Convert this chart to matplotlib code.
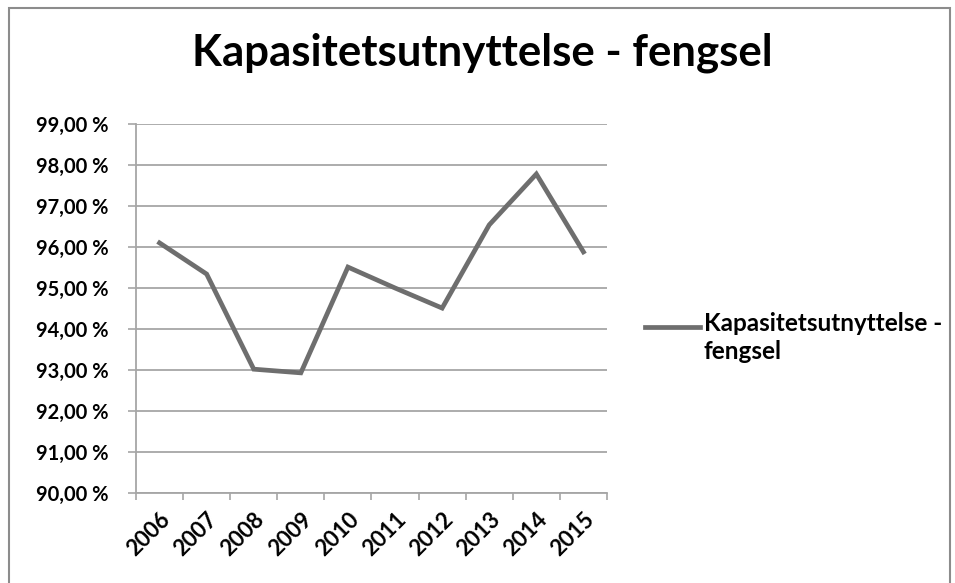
import matplotlib.pyplot as plt
from matplotlib.lines import Line2D
from matplotlib.patches import Rectangle
from matplotlib.ticker import FixedLocator, FuncFormatter

plt.rcParams['font.family'] = ['Lato', 'DejaVu Sans']
plt.rcParams['font.weight'] = 'bold'

# data
years = ['2006', '2007', '2008', '2009', '2010', '2011', '2012', '2013', '2014', '2015']
utnyttelse = [96.10, 95.34, 93.02, 92.93, 95.51, 95.00, 94.51, 96.54, 97.78, 95.88]
serie_navn = 'Kapasitetsutnyttelse -\nfengsel'
tittel = 'Kapasitetsutnyttelse - fengsel'

linjefarge = '#6e6e6e'

fig = plt.figure(figsize=(9.55, 5.83), dpi=100)
ax = fig.add_axes([0.1424, 0.1544, 0.4932, 0.6329])

x = list(range(len(years)))
ax.plot(x, utnyttelse, color=linjefarge, linewidth=3.4, solid_joinstyle='miter')

ax.set_xlim(-0.5, len(years) - 0.5)
ax.set_ylim(90, 99)
ax.set_yticks(range(90, 100))
ax.yaxis.set_major_formatter(FuncFormatter(lambda v, p: f'{v:.2f}'.replace('.', ',') + ' %'))
ax.grid(axis='y', color='#a6a6a6', linewidth=1.3)

# category labels centered, tick marks on the boundaries
ax.set_xticks(x)
ax.set_xticklabels(years, rotation=45, ha='right', va='top', rotation_mode='anchor')
ax.xaxis.set_minor_locator(FixedLocator([i - 0.5 for i in range(len(years) + 1)]))
ax.tick_params(axis='x', which='major', length=0, pad=11, labelsize=16)
ax.tick_params(axis='x', which='minor', length=5, color='#a6a6a6', width=1.2)
ax.tick_params(axis='y', length=6, color='#a6a6a6', width=1.2, labelsize=14.5, pad=14)

for side in ['top', 'right']:
    ax.spines[side].set_visible(False)
for side in ['left', 'bottom']:
    ax.spines[side].set_color('#a6a6a6')
    ax.spines[side].set_linewidth(1.3)

fig.text(0.505, 0.91, tittel, ha='center', va='center', fontsize=31.5, fontweight='bold')

# legend like Excel: the line sits beside the first text line
fig.add_artist(Line2D([0.675, 0.733], [0.439, 0.439], transform=fig.transFigure,
                      color=linjefarge, linewidth=3.4))
fig.text(0.737, 0.465, serie_navn, ha='left', va='top', fontsize=17.5,
         fontweight='bold', linespacing=1.25)

fig.patches.append(Rectangle((0.009, -0.02), 0.986, 1.006, transform=fig.transFigure,
                             fill=False, edgecolor='#8c8c8c', linewidth=1.5))

fig.savefig('out.png', dpi=100)
